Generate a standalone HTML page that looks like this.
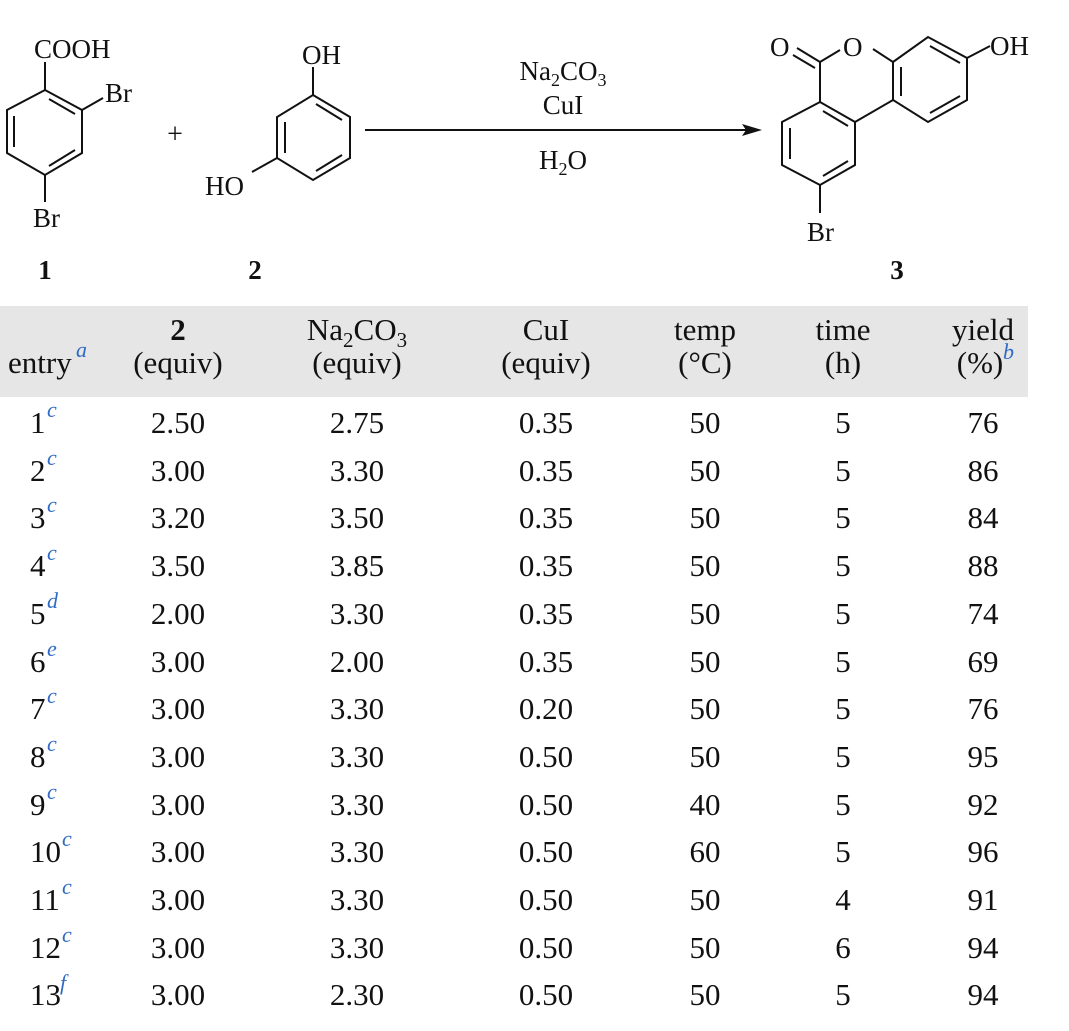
<!DOCTYPE html>
<html><head><meta charset="utf-8"><style>
html,body{margin:0;padding:0;background:#fff;}
svg{display:block;}
text{font-family:"Liberation Serif",serif;fill:#111;}
.s{fill:#2f6bc4;font-style:italic;font-size:22px;font-weight:500;}
</style></head><body>
<svg width="1069" height="1031" viewBox="0 0 1069 1031" xmlns="http://www.w3.org/2000/svg">
<g stroke="#111" stroke-width="2" fill="none">
<polygon points="45,90 7,110 7,153 45,175 82,153 82,110"/>
<line x1="14" y1="116" x2="14" y2="147"/>
<line x1="49" y1="99" x2="75" y2="114"/>
<line x1="49" y1="166" x2="75" y2="150"/>
<line x1="45" y1="90" x2="45" y2="62"/>
<line x1="82" y1="110" x2="103" y2="98"/>
<line x1="45" y1="175" x2="45" y2="202"/>
<polygon points="313,95 350,117 350,158 313,180 277,158 277,117"/>
<line x1="285" y1="122" x2="285" y2="153"/>
<line x1="316" y1="104" x2="342" y2="120"/>
<line x1="316" y1="171" x2="342" y2="155"/>
<line x1="313" y1="95" x2="313" y2="67"/>
<line x1="277" y1="158" x2="252" y2="172"/>
<line x1="365" y1="130" x2="748" y2="130"/>
<polygon points="820,102 782,122 782,165 820,185 855,165 855,122"/>
<line x1="790" y1="128" x2="790" y2="159"/>
<line x1="823" y1="111" x2="848" y2="126"/>
<line x1="823" y1="176" x2="848" y2="161"/>
<line x1="820" y1="102" x2="820" y2="62"/>
<line x1="820" y1="62" x2="797" y2="48"/>
<line x1="815" y1="68" x2="793" y2="55"/>
<line x1="820" y1="62" x2="840" y2="50"/>
<line x1="873" y1="49" x2="893" y2="62"/>
<polygon points="893,62 928,37 967,58 967,100 928,122 893,100"/>
<line x1="901" y1="67" x2="901" y2="96"/>
<line x1="930" y1="46" x2="960" y2="63"/>
<line x1="930" y1="113" x2="960" y2="96"/>
<line x1="855" y1="122" x2="893" y2="100"/>
<line x1="967" y1="58" x2="990" y2="46"/>
<line x1="820" y1="185" x2="820" y2="213"/>
</g>
<polygon points="762,130 742,124 746,130 742,136" fill="#111"/>
<g font-size="27">
<text x="34" y="58">COOH</text>
<text x="105" y="102">Br</text>
<text x="33" y="227">Br</text>
<text x="175" y="143" text-anchor="middle" font-size="28">+</text>
<text x="302" y="64">OH</text>
<text x="205" y="195">HO</text>
<text x="563" y="80" text-anchor="middle">Na<tspan font-size="18" dy="6">2</tspan><tspan dy="-6">CO</tspan><tspan font-size="18" dy="6">3</tspan></text>
<text x="563" y="114" text-anchor="middle">CuI</text>
<text x="563" y="169" text-anchor="middle">H<tspan font-size="18" dy="6">2</tspan><tspan dy="-6">O</tspan></text>
<text x="770" y="56">O</text>
<text x="843" y="56">O</text>
<text x="990" y="55">OH</text>
<text x="807" y="241">Br</text>
<text x="45" y="279" text-anchor="middle" font-weight="bold">1</text>
<text x="255" y="279" text-anchor="middle" font-weight="bold">2</text>
<text x="897" y="279" text-anchor="middle" font-weight="bold">3</text>
</g>
<rect x="0" y="306" width="1028" height="91" fill="#e6e6e6"/>
<g font-size="31" text-anchor="middle">
<text x="178" y="340" font-weight="bold">2</text>
<text x="357" y="340">Na<tspan font-size="21" dy="7">2</tspan><tspan dy="-7">CO</tspan><tspan font-size="21" dy="7">3</tspan></text>
<text x="546" y="340">CuI</text>
<text x="705" y="340">temp</text>
<text x="843" y="340">time</text>
<text x="983" y="340">yield</text>
<text x="178" y="373">(equiv)</text>
<text x="357" y="373">(equiv)</text>
<text x="546" y="373">(equiv)</text>
<text x="705" y="373">(°C)</text>
<text x="843" y="373">(h)</text>
<text x="980" y="373">(%)</text>
</g>
<text x="8" y="373" font-size="31">entry</text><text x="76" y="357" class="s">a</text>
<text x="1003" y="359" class="s">b</text>
<g font-size="31">
<g text-anchor="start">
<text x="30" y="433">1</text><text x="30" y="481">2</text><text x="30" y="528">3</text><text x="30" y="576">4</text><text x="30" y="624">5</text><text x="30" y="672">6</text><text x="30" y="719">7</text><text x="30" y="767">8</text><text x="30" y="815">9</text><text x="30" y="862">10</text><text x="30" y="910">11</text><text x="30" y="958">12</text><text x="30" y="1005">13</text>
</g>
<text x="47" y="417" class="s">c</text><text x="47" y="465" class="s">c</text><text x="47" y="512" class="s">c</text><text x="47" y="560" class="s">c</text><text x="47" y="608" class="s">d</text><text x="47" y="656" class="s">e</text><text x="47" y="703" class="s">c</text><text x="47" y="751" class="s">c</text><text x="47" y="799" class="s">c</text><text x="62" y="846" class="s">c</text><text x="62" y="894" class="s">c</text><text x="62" y="942" class="s">c</text><text x="60" y="990" class="s">f</text>
<g text-anchor="middle">
<text x="178" y="433">2.50</text><text x="357" y="433">2.75</text><text x="546" y="433">0.35</text><text x="705" y="433">50</text><text x="843" y="433">5</text><text x="983" y="433">76</text>
<text x="178" y="481">3.00</text><text x="357" y="481">3.30</text><text x="546" y="481">0.35</text><text x="705" y="481">50</text><text x="843" y="481">5</text><text x="983" y="481">86</text>
<text x="178" y="528">3.20</text><text x="357" y="528">3.50</text><text x="546" y="528">0.35</text><text x="705" y="528">50</text><text x="843" y="528">5</text><text x="983" y="528">84</text>
<text x="178" y="576">3.50</text><text x="357" y="576">3.85</text><text x="546" y="576">0.35</text><text x="705" y="576">50</text><text x="843" y="576">5</text><text x="983" y="576">88</text>
<text x="178" y="624">2.00</text><text x="357" y="624">3.30</text><text x="546" y="624">0.35</text><text x="705" y="624">50</text><text x="843" y="624">5</text><text x="983" y="624">74</text>
<text x="178" y="672">3.00</text><text x="357" y="672">2.00</text><text x="546" y="672">0.35</text><text x="705" y="672">50</text><text x="843" y="672">5</text><text x="983" y="672">69</text>
<text x="178" y="719">3.00</text><text x="357" y="719">3.30</text><text x="546" y="719">0.20</text><text x="705" y="719">50</text><text x="843" y="719">5</text><text x="983" y="719">76</text>
<text x="178" y="767">3.00</text><text x="357" y="767">3.30</text><text x="546" y="767">0.50</text><text x="705" y="767">50</text><text x="843" y="767">5</text><text x="983" y="767">95</text>
<text x="178" y="815">3.00</text><text x="357" y="815">3.30</text><text x="546" y="815">0.50</text><text x="705" y="815">40</text><text x="843" y="815">5</text><text x="983" y="815">92</text>
<text x="178" y="862">3.00</text><text x="357" y="862">3.30</text><text x="546" y="862">0.50</text><text x="705" y="862">60</text><text x="843" y="862">5</text><text x="983" y="862">96</text>
<text x="178" y="910">3.00</text><text x="357" y="910">3.30</text><text x="546" y="910">0.50</text><text x="705" y="910">50</text><text x="843" y="910">4</text><text x="983" y="910">91</text>
<text x="178" y="958">3.00</text><text x="357" y="958">3.30</text><text x="546" y="958">0.50</text><text x="705" y="958">50</text><text x="843" y="958">6</text><text x="983" y="958">94</text>
<text x="178" y="1005">3.00</text><text x="357" y="1005">2.30</text><text x="546" y="1005">0.50</text><text x="705" y="1005">50</text><text x="843" y="1005">5</text><text x="983" y="1005">94</text>
</g>
</g>
</svg>
</body></html>
